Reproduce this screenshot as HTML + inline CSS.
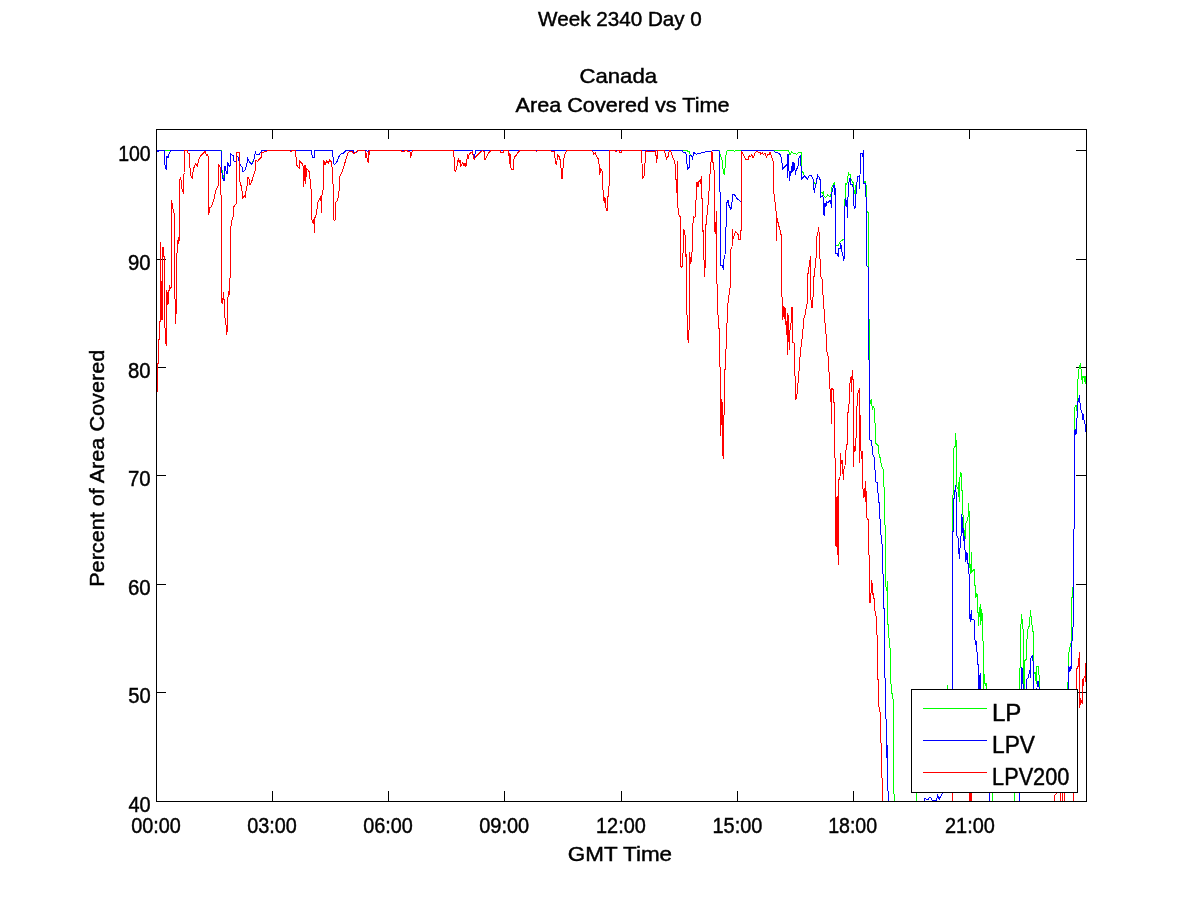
<!DOCTYPE html>
<html><head><meta charset="utf-8"><title>Canada Area Covered vs Time</title>
<style>
html,body{margin:0;padding:0;background:#fff;}
svg{display:block;}
text{font-family:"Liberation Sans",sans-serif;font-size:20px;fill:#000;stroke:#000;stroke-width:0.45px;}
.ax{stroke:#000;stroke-width:1;fill:none;shape-rendering:crispEdges;}
.ln{fill:none;stroke-width:1;stroke-linejoin:round;shape-rendering:crispEdges;}
</style></head><body>
<svg width="1200" height="900" viewBox="0 0 1200 900">
<rect x="0" y="0" width="1200" height="900" fill="#fff"/>
<text x="538.10" y="25.80" textLength="163.75" lengthAdjust="spacingAndGlyphs" style="font-size:21.0px">Week 2340 Day 0</text>
<text x="579.49" y="83.00" textLength="77.57" lengthAdjust="spacingAndGlyphs" style="font-size:21.0px">Canada</text>
<text x="515.49" y="111.80" textLength="214.14" lengthAdjust="spacingAndGlyphs" style="font-size:21.0px">Area Covered vs Time</text>
<text x="567.88" y="861.00" textLength="104.21" lengthAdjust="spacingAndGlyphs" style="font-size:21.0px">GMT Time</text>
<text transform="translate(104.2,585.1) rotate(-90)" x="-1.73" y="0" textLength="237.06" lengthAdjust="spacingAndGlyphs" style="font-size:21.0px">Percent of Area Covered</text>
<path class="ax" d="M272.5 801.5V791.0M272.5 129.5V139.0"/>
<path class="ax" d="M388.5 801.5V791.0M388.5 129.5V139.0"/>
<path class="ax" d="M504.5 801.5V791.0M504.5 129.5V139.0"/>
<path class="ax" d="M621.5 801.5V791.0M621.5 129.5V139.0"/>
<path class="ax" d="M737.5 801.5V791.0M737.5 129.5V139.0"/>
<path class="ax" d="M853.5 801.5V791.0M853.5 129.5V139.0"/>
<path class="ax" d="M969.5 801.5V791.0M969.5 129.5V139.0"/>
<path class="ax" d="M156.5 150.5H166.0M1086.5 150.5H1076.0"/>
<path class="ax" d="M156.5 259.5H166.0M1086.5 259.5H1076.0"/>
<path class="ax" d="M156.5 367.5H166.0M1086.5 367.5H1076.0"/>
<path class="ax" d="M156.5 475.5H166.0M1086.5 475.5H1076.0"/>
<path class="ax" d="M156.5 584.5H166.0M1086.5 584.5H1076.0"/>
<path class="ax" d="M156.5 692.5H166.0M1086.5 692.5H1076.0"/>
<defs><clipPath id="cp"><rect x="157" y="130" width="930" height="672"/></clipPath></defs>
<g clip-path="url(#cp)">
<polyline class="ln" stroke="#00ff00" points="157,150.5 221.5,150.5 221.7,153.3 222,170 222.5,171.5 223.5,178 223.75,180 224.5,180 224.7,166.7 225.3,166.7 225.8,170.8 227,174.2 227.7,162.5 229.2,166.7 230.3,165 230.7,153.7 233.3,155.8 233.8,160.8 236.3,162 236.7,155.8 238,157 240,164.2 242.2,167.5 242.7,171.3 244.7,170.8 245.8,167.5 247.5,161.7 247.7,157.2 248.3,160 250,162.5 251.7,163.2 253.3,160.7 254.7,156.7 255.3,151.3 256.2,154.2 259.2,154.2 261.3,151.3 261.7,150.5 311.3,150.5 312,155 312.5,157.2 314.7,157.2 315,150.5 332.5,150.5 333.3,160 334.2,165 335,164.2 337.5,160.8 338.7,156.7 340.8,154.2 343.3,153.3 345.8,150.8 346.7,150.5 353.3,150.5 354,152.5 356.7,152 357.5,150.5 366.7,150.5 367.5,151.7 368.7,150.5 472.5,150.5 473.3,156 474.2,157.5 475,154 476,150.5 686.3,150.5 689.2,151.7 690.8,155.8 691.7,155.8 692.5,159.2 693.7,152.5 695,153.3 696.7,154.2 700,153.3 702.5,152.5 705,152 707.5,151.3 711.7,151.3 713,150.5 719.7,150.5 720,154.2 721.7,158.3 722.5,161.7 723.3,173.3 724.5,174.2 725,168.3 725.8,156.7 726.7,151.3 727.5,150.5 733.5,150.5 734.7,151.3 735.8,150.5 788.3,150.5 789.2,152.5 790,155 791.7,151.7 793.3,153.3 796.7,154.2 798.3,152.5 801.7,152.2 802,171.7 803.3,172.5 804.2,175.8 805.8,177.5 807.5,179.2 808.3,176.7 810.8,175 812.5,177.5 813.3,180 815,184.2 815.8,184.2 816.7,180.8 817.5,175 819.2,177.5 820.5,180.8 820.8,191.7 822.5,193.3 823.3,191.7 824.2,196.7 825.8,197.5 827.5,195 830,196.7 831.3,193.3 832,186.7 833.3,184.2 834.7,182.5 835,188.3 835.5,246.7 836.7,245 838.3,245.8 840,241.7 841.7,240.8 843.3,239.2 844.2,240 844.5,212.5 845,200 845.3,183.3 846.7,184.2 847.5,181.7 848.3,172.5 849.2,175 850.3,174.2 850.8,179.2 852.5,181.7 853.7,183.3 854.2,193.3 855.3,194.2 856.2,183.3 856.7,185 857.5,176.7 859.2,175.8 859.5,188.3 860,175 860.5,153.3 862.5,153.3 863,156.7 863.3,150.8 863.7,183.3 865,180.8 865.8,185 866.7,186.7 867,211.7 868.3,212.5 868.7,265 868.7,319 869.7,319 869.7,404 870,404 871.3,399 871.7,404.2 872.5,409.2 873.3,406.7 874.7,409.2 875,423.3 875.8,424.2 875.8,443.3 878.3,445.8 878.8,453.3 880,457.5 881.7,466.7 883.3,469.2 884.2,490.8 884.2,520 885,525 885.5,525.8 885.8,585.8 886.7,590.8 887.5,581.7 887.8,624.2 888.7,625.8 889.2,645.8 890,647.5 890.3,657.5 890.5,660 890.5,683.3 891.3,685 891.7,692.5 892.5,695 893,699.2 893.7,700 893.7,793.3 894.5,795 894.5,830 916.3,830 916.3,720 947.5,720 947.5,685 948,720 952.4,720 952.4,495.3 953.3,494.7 953.3,448.7 954.4,447.3 955.3,446 955.3,433.3 956,440 956.7,440.7 956.9,486.7 958,489.3 958.7,496.7 959.1,478.7 959.6,501.3 960,477.3 960.4,472 961.3,474 962,490.7 962.7,491.3 962.7,513.3 963.3,517.3 963.7,528 964.2,531.7 965,540 965.3,530.7 966,522.7 966.9,522 967.6,518 968.3,516 968.4,503.3 968.9,511.3 969.6,511.3 969.5,551.7 970,568.3 970.8,573.3 971.3,552.5 971.7,572.5 973.3,570 974.5,569.2 974.6,585.2 975.8,586.3 975.8,598 976.6,593.9 977.5,594.5 977.7,612.6 978.7,613.2 978.7,625.4 979.3,610.3 980.4,605 980.8,624.8 981.6,609.7 982.2,624.8 982.5,613.2 982.8,640.6 983.5,641.2 983.5,689.3 984.3,674.3 984.8,682.7 985.7,686 986.5,683.3 986.7,700 992.5,780 992.5,830 1014.7,830 1014.7,720 1019.3,700 1019.3,668.3 1020.3,667.7 1020.3,624.8 1021.3,623.7 1021.5,614.9 1022.1,620.2 1022.8,620.2 1022.8,628.9 1023.6,629.5 1023.6,672 1024,700 1024.3,662 1025.3,660 1026.5,659.3 1026.5,639.4 1027.3,638.8 1027.7,629.5 1028.8,626.6 1029.8,626 1030.2,610.3 1030.8,616.1 1031.4,616.7 1031.8,624.8 1032.3,625.4 1032.9,631.3 1033.7,631.8 1034,672 1034.3,673.3 1035.7,672 1036.1,684 1036.3,672 1036.7,670.7 1037,666.3 1038.7,666.3 1038.8,675 1039.7,675.3 1039.8,700 1050,740 1067.6,740 1067.6,682 1068.4,682 1068.4,653.8 1068.9,653.3 1069.3,648.9 1069.8,648 1070.7,645.3 1071.4,640 1071.7,598 1072.6,596.8 1072.9,586.9 1073.8,586 1073.8,570 1074.4,460 1074.4,408 1075.3,406 1076,404.7 1076.3,410.7 1077.1,406.7 1077.3,379.3 1078.3,378.7 1078.4,370 1079.3,368.7 1079.7,366 1080.4,363.3 1080.7,368.7 1081.3,370 1081.7,376 1082.3,383.3 1082.7,376.7 1083.3,378 1084,376 1084.7,378.7 1085.1,383.3 1085.6,376.7 1086.4,376 1087,376"/>
<polyline class="ln" stroke="#0000ff" points="157,150.5 157.5,150.5 158,152 158.7,150.5 164.3,150.5 164.5,164.7 165.3,165.3 166.3,169.7 166.7,156.7 167.3,156 167.7,157.7 168.7,157.7 168.7,154.3 169.3,153.7 169.7,152.3 170.3,152 170.7,150.5 220.8,150.5 221.7,153.3 222,173.3 223.3,180 224.5,180 224.7,166.7 225.3,166.7 225.8,170.8 227,174.2 227.7,162.5 229.2,166.7 230.3,165 230.7,153.7 233.3,155.8 233.8,160.8 236.3,162 236.7,155.8 238,157 240,164.2 242.2,167.5 242.7,171.3 244.7,170.8 245.8,167.5 247.5,161.7 247.7,157.2 248.3,160 250,162.5 251.7,164.2 253.3,161.7 254.7,156.7 255.3,151.3 256.2,154.2 259.2,154.2 261.3,151.3 261.7,150.5 311.3,150.5 312,155 312.5,157.2 314.7,157.2 315,150.5 332.5,150.5 333.3,160 334.2,165 335,164.2 337.5,160.8 338.7,156.7 340.8,154.2 343.3,153.3 345.8,150.8 346.7,150.5 353.3,150.5 354,152.5 356.7,152 357.5,150.5 366.7,150.5 367.5,151.7 368.7,150.5 472.5,150.5 473.3,156 474.2,157.5 475,154 476,150.5 682.5,150.5 683.3,152.5 685.8,152.5 686.7,160 687.5,169.2 689.2,167.5 689.7,155 691.7,155.8 692.5,159.2 693.7,152.5 695,153.3 696.7,154.2 700,153.3 702.5,152.5 705,152 707.5,151.3 711.7,151.3 713,150.5 718.7,150.5 719.2,151.7 719.7,191.7 720.3,192.5 720.5,265 722.5,265.8 723.3,269.2 723.8,260 725,255 725.8,235 726.7,203.3 728,200 728.3,204.2 730,207.5 730.8,210 731.7,206.7 732.5,195 734.2,194.2 735.8,196.7 737.5,199.2 740,200.8 741.7,202.5 741.7,150.5 773.3,150.5 775.8,152.5 779.2,153.3 780.8,155.8 781.7,159.2 782.5,169.2 784.2,167.5 785.8,165.8 787,164.2 787.2,177.5 787.5,154.2 788.7,154.2 789.2,180.8 790,175.8 790.8,171.7 791.7,172.5 792.2,162.5 793,171.7 793.7,162.5 794.7,165 795.3,174.2 796.3,170 797.5,167.5 798.3,165 799.2,156.7 800.8,155 801.3,180 802.5,178.3 804.2,175.8 805.8,177.5 807.5,179.2 808.3,176.7 810.8,175 812.5,177.5 813.3,180 814.2,192.5 815.3,186.7 816.7,180.8 817.5,175 819.2,177.5 820.5,180.8 820.8,197.5 822.5,195.8 823.3,197.5 823.7,215 824.5,215.8 825,203.3 825.8,206.7 826.7,201.7 828.3,202.5 830,200 830.8,201.7 831.3,207.5 831.7,193.3 833,188.3 834.2,185 834.7,195 835.3,188.3 835.5,253.3 837.5,253.3 838.3,256.7 838.7,248.3 840,249.2 840.5,243.3 841.7,246.7 842.2,255 843.3,256.7 843.7,260.8 844.7,255.8 845,205.8 845.8,198.3 847,206.7 847.5,217.5 848,197.5 848.7,183.3 850,178.3 850.8,184.2 852.5,185 853.3,187.5 853.7,205 854.7,208.3 855.5,206.7 855.8,196.7 856.7,185 857.5,176.7 859.2,175.8 859.5,188.3 860,175 860.5,153.3 862.5,153.3 863,156.7 863.3,150.8 863.7,183.3 865,183.3 865.8,185.8 866.2,205.8 866.7,206.7 867,265.8 868.3,267.5 868.7,290 868.7,360 869.7,360 869.7,440 871.7,440 872.5,454.2 874.2,457.5 875,470 875.8,481.7 877.2,482.5 877.8,490.8 878.3,495.8 879.2,504.2 880,519.2 880.8,520.8 880.8,535 881.7,535.8 882.2,548.3 882.8,549.2 883,574.2 883.7,575.8 883.8,608.3 884.5,609.2 884.7,670 885,678.3 885.8,679.2 886.2,755 887,758.3 887.2,745 887.7,790 888.3,791.7 888.7,830 924.2,830 924.2,799.2 925,798.5 928.3,800 929.2,797.5 930.8,797.5 931.7,800 936.7,800 937.5,794.2 938.3,796.7 939.2,800 940,797.5 941.7,795 942.5,793.3 944,780 952.5,780 952.5,532 953.3,531.3 953.3,498.7 954.4,498 954.7,496 955.3,485.3 956,492 956.7,492.7 956.7,535.3 958,537.5 958.7,550.8 959.5,558.3 960,548.3 960.8,541.7 961.3,528.3 961.6,514 962.4,520 962.9,528 963.2,541 963.6,528 964,536 964.2,541.7 965,550 965.8,561.7 967,552.5 967.5,562.5 968.3,564.2 968.7,573.3 969.5,575 969.7,617.5 970.5,621.7 971.3,610 972,620 973.3,619.2 974.2,620 974.5,639.2 975.3,640.8 975.8,644.2 976.3,641.7 976.7,651.7 977.5,652.5 977.8,664.2 978.5,665 978.5,689 979,675 979.5,689 980.5,673.3 980.7,700 989.7,780 989.7,830 1019.5,830 1019.5,700 1021.3,689.3 1021.3,667.3 1022,668 1022.3,672.7 1022.7,673.3 1022.9,684 1023.7,684.3 1023.7,700 1026.5,700 1026.5,679.7 1027.3,679 1028,678 1028.7,674.7 1029.3,673.3 1029.5,670.3 1030.3,670 1030.5,677.3 1030.7,658.7 1031.3,656.7 1032.3,655.3 1032.7,661 1033.5,661.3 1033.5,700 1036.3,700 1036.3,689.3 1037,688 1037.3,681 1038.3,682 1039,687 1039.7,687.3 1039.8,700 1050,740 1068.4,740 1068.4,672.9 1069,666.5 1069.5,672 1070.3,666.3 1070.8,671 1071.4,666.3 1071.8,641.2 1072.6,640.6 1072.9,627.2 1073.8,626.6 1073.8,570 1074.4,460 1074.4,433.3 1075.3,429.3 1076,434.7 1076.7,419.3 1077.3,417.3 1077.7,402.7 1078.7,398.7 1079.5,396 1080,402.7 1080.7,404 1081.1,411.3 1082,412.7 1082.4,420 1082.9,413.3 1083.7,416.7 1084.3,422.7 1085.1,424 1085.6,432 1086.4,425.3 1087,425.3"/>
<polyline class="ln" stroke="#ff0000" points="157.5,391.6 157.5,364 158.3,363 158.3,340 159.6,339.6 159.6,321.7 160.5,321.2 160.5,242.3 161,320 161.3,281 161.7,320 162,281 162.5,320 162.5,247 163.5,248 163.5,256 164.5,256.3 164.5,327.5 165.4,328.3 165.4,342.5 166.5,345.8 166.7,328 166.7,290 167.5,295 167.1,305 168.5,303.7 168.5,291.2 169.6,290 169.6,285 170.4,288.3 171.5,286.7 171.5,200 172.5,206.7 173.3,210 174.5,215 174.5,298.7 175.4,299.2 175.4,323.7 175.8,314.2 176.6,313.3 176.6,253.3 177.5,252.5 177.5,240.3 178.5,243.5 178.5,237 179.5,240.5 179.7,180 180.8,177.5 181.7,188.3 183.3,193.3 183.7,175 184.5,172.5 184.7,150.5 187.5,150.5 188,153.3 189.2,153.3 189.7,165 190.8,175.8 192.5,178.3 193,171.7 194.2,166.7 195.8,163.3 197.5,166.7 198.3,160.8 200,156.7 202.5,154.2 205,151.3 205.8,153.3 206.7,155.8 208,154.2 208.7,208.3 208.7,215 210,207.5 211.7,206.7 212.5,203.3 214.2,198.3 215.8,190 218,186.7 218.7,164.2 220,166.7 220.8,194.2 221.5,195.8 221.5,302.5 222.5,303.3 222.9,300 223.3,292 223.75,299.6 224.4,299.6 224.4,317.5 225.4,318.3 225.4,324.6 226.25,325 226.25,334.6 227.1,331.7 227.7,331.7 227.7,297 228.75,296.25 228.75,291.25 229.6,295 229.6,278.3 230.7,277.5 230.8,227.5 232,220 233.3,215.8 233.8,206.7 235.8,204.2 236.7,202.5 237,152.5 239.5,152.5 239.7,180.8 240.8,185 241.7,186.7 242.5,198.3 244.2,195.8 245.3,197.5 245.8,191.7 247.5,183.3 248,177.5 249.2,179.2 249.7,185 251.7,181.7 253.3,175.8 255.3,170 255.7,160 257.5,161.7 260,158.3 261.3,157.5 262,152.5 265,151.7 267.5,150.8 268.3,150.5 289.2,150.5 290.8,152 292,150.5 295,150.5 295.8,154.2 296.7,165 299.2,168.3 299.5,160.8 302.5,164.2 303.3,167.5 303.7,186.7 305,165 305.8,183.3 306.3,168.3 309.2,171.7 310.3,181.7 311.3,191.7 312,220 313.3,223.3 314.2,218.3 314.7,232.5 315,217.5 316.7,213.3 317.5,202.5 319.2,200 320.8,196.7 321.7,212.5 322,195 323.3,188.3 323.7,160 325,165 326.7,160.8 328.3,163.3 329.7,159.7 331.3,161.7 332.5,170 333.3,191.7 333.7,220 335,220 335.8,202.5 337.5,200.8 339.2,190 340,175.8 342.5,170.8 345,162.5 346.7,156.7 348.3,152.5 350,151.7 352.5,151.3 353.3,153.3 356.7,152.5 357.5,150.5 365,150.5 365.3,157.5 366.7,153.3 367.2,160.8 368.3,162.5 368.7,151.7 369.7,155 370,150.5 400.8,150.5 401.7,151.3 404.2,151.3 404.7,150.5 407.5,150.5 408,151.7 410,152 410.5,157.5 411.7,153.3 412.5,150.5 453.3,150.5 454.2,158.3 454.7,170 455.5,171.7 456.7,168.3 458.3,158.3 459.2,162.5 460,160 460.8,166.7 462.5,162.5 464.2,165.8 465,163.3 465.8,166.7 466.7,161.7 467.5,154.2 468.3,158.3 469.2,154.2 470.8,152.5 472.5,152 473.3,156.7 474.2,159.2 475.8,156.7 478.3,154.2 480.8,151.7 482.5,150.8 484.2,151.7 485,160 486.7,156.7 488.3,153.3 490.8,150.8 491.7,150.5 500,150.5 500.5,152.5 503.3,152.5 503.7,150.5 508.3,150.5 508.8,153.3 509.5,163.3 510,153.3 510.5,165 511.3,169.7 513.3,169.7 514.2,156.7 515.8,155.8 516.7,154.2 519.2,151.3 520,150.5 535.8,150.5 536.7,151.7 537.5,150.5 550,150.5 551.7,151.3 554.7,151.7 555.3,163.3 556.7,164.7 557.5,154.2 559.2,156.7 559.7,159.2 560.8,160 561.3,178.3 562.5,178.3 563.3,161.7 564.7,154.2 566.7,150.8 567.5,150.5 591.7,150.5 593,151.7 593.7,154.2 595.3,152.5 596.7,156.7 598.7,159.2 599.7,174.2 600.8,168.3 602.5,172.5 603,190 604.2,202.5 605,197.5 606.3,210.8 607.5,210.8 607.8,196.7 608.7,196.7 609.2,179.2 609.7,179.2 610,150.5 615,150.5 615.8,151.7 617.5,150.5 619.2,150.5 619.7,152.5 621.7,152.5 622,150.5 641.3,150.5 642,163.3 642.5,178.3 644.2,175.8 645,163.3 645.8,151.7 646.7,150.5 647.5,151.3 655,151.3 655.8,150.5 656.3,162.5 657.5,156.7 658,150.5 664.2,150.5 665,153.3 666.7,159.2 667.5,156.7 668.7,155.8 669.2,150.5 670.3,150.5 671.3,152.5 672.5,156.7 673.7,160 674.7,160.8 675.3,167.5 675.8,179.2 676.7,180.8 677,193.3 677.5,161.7 677.8,206.7 679.2,215.8 680.3,216.7 680.5,265.8 681.7,267.5 682.5,265.8 682.8,253.3 683.3,251.7 683.7,229.2 685,235 685.8,256.7 686.3,254.2 686.7,280 686.7,314.2 687.5,315.8 687.5,337.5 688.7,342.5 688.7,330 689.7,329.2 689.7,252.5 690.5,263.3 691.3,261.7 691.7,252.5 692.5,251.7 693,223.3 693.7,216.7 695,218.3 695.3,206.7 696.3,196.7 697,181.7 698,186.7 699.2,180 700.5,183.3 701.3,176.7 701.7,198.3 702.5,198.3 703,231.7 703.7,230.8 704.2,276.7 705,270 705.3,248.3 705.8,225 706.7,223.3 707.2,210 708.3,203.3 709.2,188.3 710,174.2 710.8,170 711.3,151.7 712,151.3 712.5,161.7 713.7,163.3 714.2,173.3 715,231.7 715.8,233.3 716.2,211.7 716.7,280 717.5,290 717.5,314.2 718.7,315.8 718.7,328.3 719.7,329.2 719.7,366.7 720.5,367.5 720.5,436 721,398 721.5,425 722,400 722.5,440 723,456 723.4,458.3 723.7,430 724.2,406.7 724.5,370 725.5,369.2 725.8,349.2 726.7,348.3 727,323.3 727.8,322.5 728,303.3 728.8,302.5 729.2,289.2 730,288.3 730.3,278.3 730.8,249.2 732,246.7 732.5,230 733,239.2 734.2,235 735.8,231.7 738.3,235 738.7,239.2 740.3,240 740.8,230.8 741.7,230 741.7,151.7 743.3,154.2 745,158.3 745.8,159.2 748.3,159.2 749.2,155.8 750.8,156.7 751.7,154.2 753,157.5 754.2,155.8 755.3,152.5 756.7,151.7 760,152.5 760.8,154.2 762.5,152.5 763.3,155 765,153.3 766.7,157.5 767.5,154.2 769.2,155 770,152.5 771.3,155.8 772.5,160 773.3,161.7 773.7,191.7 774.7,199.2 775.3,205 775.8,209.2 776.7,218.3 776.7,240.8 777,218.3 778,222.5 778.7,225.8 779.7,228.3 780.8,234.2 781.7,235 781.7,296.7 782.8,297.5 782.8,320 783.7,306.7 784.2,318.3 785,307.5 785.8,321.7 786.7,335 787.2,313.3 787.5,354.2 788.3,315.8 789.2,349.2 790,330 790.8,327.5 791.7,307.5 792.2,307.5 792.5,335 793,342.5 794.2,343.3 794.5,375 795.5,376.7 795.8,400 796.7,395 797.5,391.7 798,383.3 798.7,375 799.7,361.7 800.5,350.8 801.7,341.7 802.8,331.7 803.7,319.2 805,315 805.8,310.8 806.7,305 807.5,303.3 807.6,276.7 808.7,268.3 809.7,263.3 810.3,256.7 810.3,298.3 811.3,300.8 811.3,307.5 812.5,307.5 812.5,297.5 813.7,296.7 813.7,280 814.7,269.2 815.8,264.2 816.3,248.3 817,235.8 818,232.5 818.7,227.5 819.2,235 819.7,256.7 820.3,260.8 820.8,276.7 821.7,278.3 822.5,280.8 823,295 823.8,295.8 824.2,319.2 825.3,324.2 826.2,336.7 826.7,351.7 827.8,353.3 828.3,359.2 829.2,375 830,389.2 830.8,390 830.8,401.7 831.3,388.3 831.7,423.3 832,388.3 833.3,390 833.8,402.5 834.7,403.3 834.7,457.5 835.5,458.3 835.8,546 836.3,497 836.8,547 837.3,496 837.8,547 838.3,564.7 838.6,480 840,478.3 840.3,453.3 841.3,463.3 842.2,460.8 843.3,479.2 844.2,466.7 845,465.8 845.5,454.2 846.7,445 847.5,444.2 847.8,412.5 848.7,411.7 849.2,399.2 850,383 850.8,377.5 851.3,391.7 852.3,370 853,380 853.7,379.2 853.5,466.7 854.2,446.7 855,451.7 855.8,438.3 856.7,437.5 856.7,412.5 857.5,396.7 858.3,391.7 859.5,388.3 859.7,462.5 860.3,415 860.8,415.8 860.8,449.2 861.7,458.3 862,450.8 862.5,451.7 862.8,486.7 863.7,497.5 864.7,495 865.3,481.7 865.8,501.7 866.7,491.7 867,518.3 868.3,520 868.3,523.3 868.7,554.2 869.7,555.8 869.7,602.5 870.8,601.7 871.3,580 872.2,584.2 872.5,594.2 873.3,593.3 873.7,598.3 874.7,599.2 875,610.8 875.8,612.5 876.2,619.2 876.7,620 877,635 877.5,635.8 877.5,679.2 878.3,680 878.3,702.5 879.7,710.8 880.3,713.3 880.7,741.7 881.3,745 881.7,776.7 882.5,779.2 882.5,830 952.5,830 952.5,760 969.5,760 969.5,830 970.5,830 970.5,760 971.5,760 971.5,830"/>
<polyline class="ln" stroke="#ff0000" points="1054,830 1054.2,801.3 1055,795 1056.7,793 1058,780 1060,780 1060,830 1062,830 1062,780 1064.4,780 1064.4,830 1073.5,830 1073.5,780 1076.3,720 1076.3,668.9 1077.2,668.4 1077.5,666.7 1078.2,666.2 1078.4,658.2 1079.1,657.8 1079.3,652 1079.6,652.4 1079.6,707.6 1080.2,704 1080.4,698.2 1081.1,701.3 1081.8,700.9 1082.2,704 1082.5,680.9 1083.1,679.1 1083.7,685.3 1084,678.2 1084.9,676 1085.3,681.8 1085.5,663.1 1087,663"/>
</g>
<rect class="ax" x="156.5" y="129.5" width="930.0" height="672.0"/>
<text x="131.21" y="833.00" textLength="49.64" lengthAdjust="spacingAndGlyphs" style="font-size:21.8px">00:00</text>
<text x="247.21" y="833.00" textLength="49.64" lengthAdjust="spacingAndGlyphs" style="font-size:21.8px">03:00</text>
<text x="363.21" y="833.00" textLength="49.64" lengthAdjust="spacingAndGlyphs" style="font-size:21.8px">06:00</text>
<text x="479.20" y="833.00" textLength="49.95" lengthAdjust="spacingAndGlyphs" style="font-size:21.8px">09:00</text>
<text x="596.01" y="833.00" textLength="49.84" lengthAdjust="spacingAndGlyphs" style="font-size:21.8px">12:00</text>
<text x="712.51" y="833.00" textLength="49.84" lengthAdjust="spacingAndGlyphs" style="font-size:21.8px">15:00</text>
<text x="828.13" y="833.00" textLength="49.00" lengthAdjust="spacingAndGlyphs" style="font-size:21.8px">18:00</text>
<text x="945.00" y="833.00" textLength="49.84" lengthAdjust="spacingAndGlyphs" style="font-size:21.8px">21:00</text>
<text x="118.14" y="161.00" textLength="32.51" lengthAdjust="spacingAndGlyphs" style="font-size:21.8px">100</text>
<text x="128.09" y="270.00" textLength="22.57" lengthAdjust="spacingAndGlyphs" style="font-size:21.8px">90</text>
<text x="128.09" y="378.00" textLength="22.57" lengthAdjust="spacingAndGlyphs" style="font-size:21.8px">80</text>
<text x="127.98" y="486.00" textLength="22.68" lengthAdjust="spacingAndGlyphs" style="font-size:21.8px">70</text>
<text x="127.98" y="595.00" textLength="22.68" lengthAdjust="spacingAndGlyphs" style="font-size:21.8px">60</text>
<text x="128.19" y="703.00" textLength="22.46" lengthAdjust="spacingAndGlyphs" style="font-size:21.8px">50</text>
<text x="128.50" y="812.00" textLength="22.14" lengthAdjust="spacingAndGlyphs" style="font-size:21.8px">40</text>
<rect class="ax" x="911.5" y="689.5" width="166" height="103" style="fill:#fff"/>
<path d="M923 708.5H987" stroke="#00ff00" class="ln"/>
<path d="M923 740.5H987" stroke="#0000ff" class="ln"/>
<path d="M923 772.5H987" stroke="#ff0000" class="ln"/>
<text x="991.92" y="721.00" textLength="29.46" lengthAdjust="spacingAndGlyphs" style="font-size:23.0px">LP</text>
<text x="992.03" y="753.00" textLength="42.99" lengthAdjust="spacingAndGlyphs" style="font-size:23.0px">LPV</text>
<text x="992.11" y="785.00" textLength="77.23" lengthAdjust="spacingAndGlyphs" style="font-size:23.0px">LPV200</text>
</svg></body></html>
